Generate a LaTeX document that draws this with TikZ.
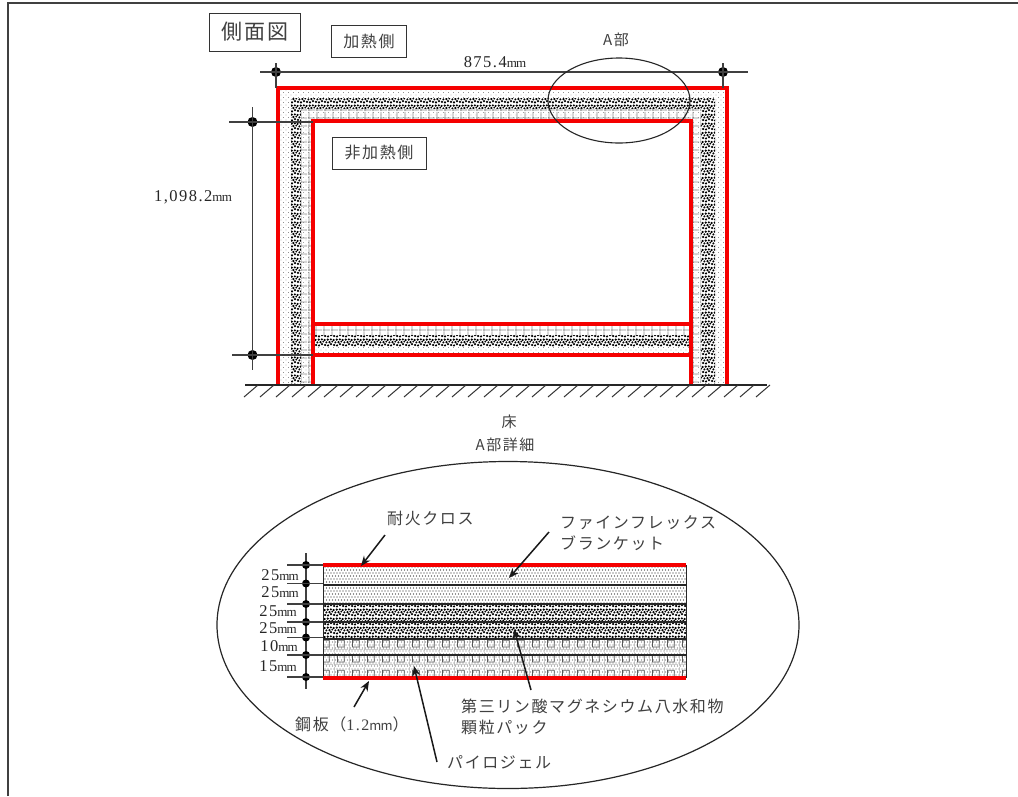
\documentclass[tikz,border=0pt]{standalone}
\usepackage{fontspec}
\setmainfont{Liberation Serif}
\newfontfamily\ser[LetterSpace=9]{Liberation Serif}
\newfontfamily\jp[LetterSpace=10]{Noto Sans CJK JP}
\newcommand{\mmu}{{\fontsize{13}{13}\selectfont\addfontfeature{LetterSpace=-6}mm}}
\usetikzlibrary{patterns,arrows.meta,shapes.geometric}
\pgfdeclarepatternformonly{fdots}{\pgfqpoint{-1pt}{-1pt}}{\pgfqpoint{5pt}{5pt}}{\pgfqpoint{5pt}{5pt}}{%
 \pgfpathcircle{\pgfqpoint{1pt}{1pt}}{.42pt}\pgfpathcircle{\pgfqpoint{3.5pt}{3.5pt}}{.42pt}\pgfusepath{fill}}
\pgfdeclarepatternformonly{fdotsb}{\pgfqpoint{-1pt}{-1pt}}{\pgfqpoint{6pt}{6pt}}{\pgfqpoint{6pt}{6pt}}{%
 \pgfpathcircle{\pgfqpoint{1pt}{1pt}}{.55pt}\pgfpathcircle{\pgfqpoint{4pt}{1pt}}{.55pt}\pgfpathcircle{\pgfqpoint{2.5pt}{4pt}}{.55pt}\pgfpathcircle{\pgfqpoint{5.5pt}{4pt}}{.55pt}\pgfusepath{fill}}
\pgfdeclarepatternformonly{stones}{\pgfqpoint{-2pt}{-2pt}}{\pgfqpoint{9pt}{9pt}}{\pgfqpoint{9pt}{9pt}}{%
 \pgfpathcircle{\pgfqpoint{1pt}{1pt}}{1.25pt}\pgfpathcircle{\pgfqpoint{4pt}{.6pt}}{1.15pt}\pgfpathcircle{\pgfqpoint{7pt}{1.8pt}}{1.25pt}%
 \pgfpathcircle{\pgfqpoint{2.4pt}{3.6pt}}{1.15pt}\pgfpathcircle{\pgfqpoint{5.4pt}{3.9pt}}{1.25pt}\pgfpathcircle{\pgfqpoint{8.3pt}{4.4pt}}{1pt}%
 \pgfpathcircle{\pgfqpoint{.6pt}{6pt}}{1.15pt}\pgfpathcircle{\pgfqpoint{3.8pt}{6.4pt}}{1.25pt}\pgfpathcircle{\pgfqpoint{6.8pt}{6.6pt}}{1.15pt}\pgfusepath{fill}}
\pgfdeclarepatternformonly{cells}{\pgfqpoint{0pt}{0pt}}{\pgfqpoint{7.5pt}{7.5pt}}{\pgfqpoint{7.5pt}{7.5pt}}{%
 \pgfsetlinewidth{.7pt}\pgfpathmoveto{\pgfqpoint{0pt}{1pt}}\pgfpathlineto{\pgfqpoint{7.5pt}{1pt}}%
 \pgfpathmoveto{\pgfqpoint{1pt}{0pt}}\pgfpathlineto{\pgfqpoint{1pt}{7.5pt}}\pgfusepath{stroke}}
\pgfdeclarepatternformonly{cellsb}{\pgfqpoint{0pt}{0pt}}{\pgfqpoint{14.5pt}{14.5pt}}{\pgfqpoint{14.5pt}{14.5pt}}{%
 \pgfsetlinewidth{.8pt}\pgfpathrectangle{\pgfqpoint{3.5pt}{4pt}}{\pgfqpoint{7pt}{7pt}}\pgfusepath{stroke}}
\pgfdeclarepatternformonly{cellsc}{\pgfqpoint{0pt}{0pt}}{\pgfqpoint{14.5pt}{14.5pt}}{\pgfqpoint{14.5pt}{14.5pt}}{%
 \pgfsetlinewidth{.5pt}\pgfpathmoveto{\pgfqpoint{0pt}{1.5pt}}\pgfpathlineto{\pgfqpoint{14.5pt}{1.5pt}}%
 \pgfpathmoveto{\pgfqpoint{0.5pt}{0pt}}\pgfpathlineto{\pgfqpoint{0.5pt}{14.5pt}}\pgfusepath{stroke}}
\definecolor{redline}{RGB}{245,0,0}
\tikzset{
 dim/.style={draw=black!75,line width=1.1pt},
 bullet/.style={circle,fill=black,inner sep=0pt,minimum size=10pt},
 redwall/.style={draw=redline,line width=4pt,line cap=butt,line join=miter},
 redthin/.style={draw=redline,line width=3.2pt},
 boxed/.style={draw=black!80,line width=1pt,font=\jp\fontsize{16}{16}\selectfont,text=black!75,inner sep=0pt,anchor=center},
 jplabel/.style={font=\jp\fontsize{16}{21.5}\selectfont,text=black!75,inner sep=0pt,align=left,anchor=west},
 mmlabel/.style={font=\ser\fontsize{16.5}{16.5}\selectfont,text=black!85,inner sep=0pt,anchor=center},
 jpcenter/.style={font=\jp\fontsize{15}{15}\selectfont,text=black!75,inner sep=0pt,anchor=center},
 pointer/.style={draw=black!90,line width=1.5pt,-{Stealth[length=10pt,width=8pt]}},
 layerline/.style={draw=black!85,line width=1.1pt},
 hatchline/.style={draw=black!80,line width=1pt},
}
\begin{document}
\begin{tikzpicture}[x=1pt,y=-1pt]
\useasboundingbox (0,0) rectangle (1018,796);
\fill[white] (0,0) rectangle (1018,796);
% page frame
\coordinate (pa) at (8,796); \coordinate (pb) at (8,3); \coordinate (pc) at (1018,3);
\draw[draw=black!75,line width=1.2pt] (pa) -- (pb) -- (pc);

% side view: fills
\fill[pattern=fdots,pattern color=black!65] (279,90) rectangle (725,385);
\fill[white] (291,98) rectangle (715,385);
\fill[pattern=stones,pattern color=black] (291,98) rectangle (715,385);
\fill[white] (301,109) rectangle (701,385);
\fill[pattern=cells,pattern color=black!45] (301,109) rectangle (701,385);
\fill[pattern=fdots,pattern color=black!55] (301,109) rectangle (701,385);
\fill[white] (313,121) rectangle (691,385);
% bottom band
\fill[pattern=cells,pattern color=black!45] (313,324) rectangle (691,335);
\fill[pattern=stones,pattern color=black] (313,335) rectangle (691,346);
\fill[pattern=fdots,pattern color=black!60] (313,346) rectangle (691,355);
% red walls
\coordinate (o1) at (277.5,385); \coordinate (o2) at (277.5,88); \coordinate (o3) at (727,88); \coordinate (o4) at (727,385);
\coordinate (i1) at (313,385); \coordinate (i2) at (313,121); \coordinate (i3) at (691,121); \coordinate (i4) at (691,385);
\draw[redwall] (o1) -- (o2) -- (o3) -- (o4);
\draw[redwall] (i1) -- (i2) -- (i3) -- (i4);
\coordinate (b1) at (313,324); \coordinate (b2) at (691,324);
\coordinate (b3) at (313,355); \coordinate (b4) at (691,355);
\draw[redthin] (b1) -- (b2);
\draw[redthin] (b3) -- (b4);

% ground
\coordinate (g1) at (245,385); \coordinate (g2) at (767,385);
\draw[draw=black!85,line width=1.3pt] (g1) -- (g2);
\foreach \x in {258,274,...,770}{\draw[hatchline] (\x,385) -- (\x-14,397);}

% dimensions
\node[bullet] (d1) at (276,72) {};
\node[bullet] (d2) at (723,72) {};
\coordinate (d1l) at (260,72); \coordinate (d2r) at (748,72);
\coordinate (d1t) at (276,63); \coordinate (d1b) at (276,88);
\coordinate (d2t) at (723,63); \coordinate (d2b) at (723,88);
\draw[dim] (d1l) -- (d2r);
\draw[dim] (d1t) -- (d1b);
\draw[dim] (d2t) -- (d2b);
\node[bullet] (e1) at (252.5,122) {};
\node[bullet] (e2) at (252.5,355) {};
\coordinate (e1l) at (229,122); \coordinate (e1r) at (313,122);
\coordinate (e2l) at (232,355); \coordinate (e2r) at (313,355);
\coordinate (et) at (252.5,107); \coordinate (eb) at (252.5,370);
\draw[dim] (e1l) -- (e1r);
\draw[dim] (e2l) -- (e2r);
\draw[dim] (et) -- (eb);

% A-part ellipse
\node[draw=black!85,line width=1.1pt,ellipse,minimum width=142pt,minimum height=85pt,inner sep=0pt] (apart) at (619,100.5) {};

% side view labels
\node[boxed,minimum width=91pt,minimum height=38pt,font=\jp\fontsize{21}{21}\selectfont] (title) at (255,32) {側面図};
\node[boxed,minimum width=75pt,minimum height=32pt] (heat) at (369,41) {加熱側};
\node[boxed,minimum width=94pt,minimum height=32pt] (noheat) at (379,153) {非加熱側};
\node[mmlabel] (w) at (495,62) {875.4\mmu};
\node[jpcenter] (ap) at (616,40) {A部};
\node[mmlabel] (h) at (193,197) {1,098.2\mmu};
\node[jpcenter] (fl) at (509,422) {床};
\node[jpcenter] (dt) at (505,445) {A部詳細};

% detail ellipse
\node[draw=black!85,line width=1.2pt,ellipse,minimum width=582pt,minimum height=327pt,inner sep=0pt] (det) at (508,625) {};

% detail layers
\fill[pattern=fdotsb,pattern color=black!85] (323,565) rectangle (686,604);
\fill[pattern=stones,pattern color=black] (323,604) rectangle (686,639);
\fill[pattern=fdotsb,pattern color=black!55] (323,639) rectangle (686,678);
\fill[pattern=cellsb,pattern color=black!65] (323,639) rectangle (686,678);
\fill[pattern=cellsc,pattern color=black!30] (323,639) rectangle (686,678);
\foreach \y [count=\i] in {585,604,622,639,655}{
  \coordinate (la\i) at (323,\y); \coordinate (lb\i) at (686,\y);
  \draw[layerline] (la\i) -- (lb\i);
}
\coordinate (bl) at (323,565); \coordinate (br) at (686,565);
\coordinate (cl) at (323,678); \coordinate (cr) at (686,678);
\draw[draw=black!85,line width=1pt] (bl) -- (cl);
\draw[draw=black!85,line width=1pt] (br) -- (cr);
\draw[draw=redline,line width=3.4pt] (bl) -- (br);
\draw[draw=redline,line width=3.4pt] (cl) -- (cr);

% detail dimension
\coordinate (vt) at (306,553); \coordinate (vb) at (306,689);
\draw[dim] (vt) -- (vb);
\foreach \y [count=\i] in {565,583.5,604,622,637.5,655,677}{
  \node[bullet,minimum size=8pt] (t\i) at (306,\y) {};
  \coordinate (tl\i) at (287,\y);
  \coordinate (tr\i) at (323,\y);
  \draw[dim] (tl\i) -- (tr\i);
}
\node[mmlabel] (m1) at (280,575) {25\mmu};
\node[mmlabel] (m2) at (280,592) {25\mmu};
\node[mmlabel] (m3) at (278,611.5) {25\mmu};
\node[mmlabel] (m4) at (278,628.5) {25\mmu};
\node[mmlabel] (m5) at (279,646) {10\mmu};
\node[mmlabel] (m6) at (278,666) {15\mmu};

% detail labels
\node[jplabel] (cloth) at (387,518) {耐火クロス};
\node[jplabel] (fine) at (560,533) {ファインフレックス\\ブランケット};
\node[jplabel] (mg) at (461,717) {第三リン酸マグネシウム八水和物\\顆粒パック};
\node[jplabel] (steel) at (295,724) {鋼板（{\ser 1.2}\mmu）};
\node[jplabel] (pyro) at (447,762) {パイロジェル};

% pointers
\coordinate (c1s) at (385,535); \coordinate (c1e) at (361,566);
\coordinate (c2s) at (549,532); \coordinate (c2e) at (509,578);
\coordinate (c3s) at (531,690); \coordinate (c3e) at (514,629);
\coordinate (c4s) at (354,707); \coordinate (c4e) at (369,681);
\coordinate (c5s) at (437,762); \coordinate (c5e) at (414,666);
\draw[pointer] (c1s) -- (c1e);
\draw[pointer] (c2s) -- (c2e);
\draw[pointer] (c3s) -- (c3e);
\draw[pointer] (c4s) -- (c4e);
\draw[pointer] (c5s) -- (c5e);
\end{tikzpicture}
\end{document}
